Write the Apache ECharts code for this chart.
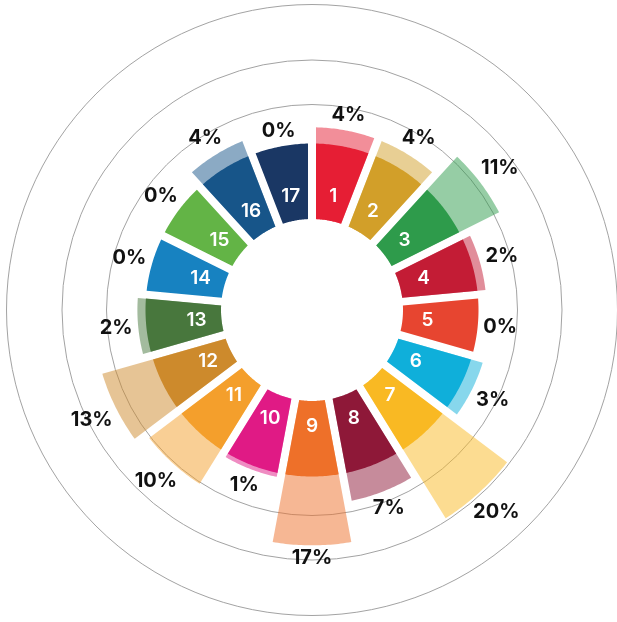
<!DOCTYPE html>
<html lang="en">
<head>
<meta charset="UTF-8">
<title>SDG shares</title>
<script src="https://cdn.jsdelivr.net/npm/echarts@6/dist/echarts.min.js"></script>
<style>
  *{margin:0;padding:0}
  html,body{width:100%;height:100%;background:#fff}
  #main{width:617px;height:622px}
</style>
</head>
<body>
<div id="main"></div>
<script>
    // goal numbers and the share shown outside each one (%)
    var goals = ['1','2','3','4','5','6','7','8','9','10','11','12','13','14','15','16','17'];
    var shares = [4, 4, 11, 2, 0, 3, 20, 7, 17, 1, 10, 13, 2, 0, 0, 4, 0];

    var goalColors = ['#E61E34','#D29F29','#2E9B4B','#C31C35','#E74530','#0FAFDA','#F9B923','#8E1838',
                      '#EE7029','#E01A85','#F49F2C','#CD8A2C','#48773D','#1782C1','#63B446','#175589','#1A3764'];

    // geometry (px)
    var HOLE = 91, BASE = 166.5, PX_PER_PCT = 4.05, OUTER = 306;
    var RINGS_PX = [205.5, 250, 305.5];
    var GAP = 4;
    var rMin = (HOLE - BASE) / PX_PER_PCT;
    var rMax = (OUTER - BASE) / PX_PER_PCT;
    var ringLevels = RINGS_PX.map(function (r) { return (r - BASE) / PX_PER_PCT; });

    var PCT_FONT = '700 20px Inter';
    var NUM_FONT = '600 19px Inter';
    var ctx = document.createElement('canvas').getContext('2d');
    ctx.font = PCT_FONT;
    function textWidth(t) { return ctx.measureText(t).width; }

    function bandPoints(cx, cy, a0, a1, rIn, rOut) {
        var pts = [], n = 30, k, a;
        var o0 = a0 + Math.asin(GAP / rOut), o1 = a1 - Math.asin(GAP / rOut);
        for (k = 0; k <= n; k++) {
            a = o0 + (o1 - o0) * k / n;
            pts.push([cx + rOut * Math.cos(a), cy + rOut * Math.sin(a)]);
        }
        var i0 = a0 + Math.asin(GAP / rIn), i1 = a1 - Math.asin(GAP / rIn);
        for (k = n; k >= 0; k--) {
            a = i0 + (i1 - i0) * k / n;
            pts.push([cx + rIn * Math.cos(a), cy + rIn * Math.sin(a)]);
        }
        return pts;
    }

    function renderRing(params, api) {
        var cs = params.coordSys;
        var p = api.coord([api.value(0), 0]);
        var r = Math.hypot(p[0] - cs.cx, p[1] - cs.cy);
        return {
            type: 'circle',
            shape: {cx: cs.cx, cy: cs.cy, r: r},
            style: {fill: 'none', stroke: '#a3a3a3', lineWidth: 1}
        };
    }

    function renderGoal(params, api) {
        var cs = params.coordSys, cx = cs.cx, cy = cs.cy;
        var v = api.value(0), i = api.value(1);
        var rOf = function (val) {
            var q = api.coord([val, i]);
            return Math.hypot(q[0] - cx, q[1] - cy);
        };
        var p = api.coord([0, i]);
        var mid = Math.atan2(p[1] - cy, p[0] - cx);
        var half = Math.PI / goals.length;
        var a0 = mid - half, a1 = mid + half;
        var rHole = rOf(rMin), rBase = rOf(0), rEnd = rOf(v);
        var color = goalColors[params.dataIndex];
        var children = [];
        if (v > 0) {
            children.push({
                type: 'polygon',
                shape: {points: bandPoints(cx, cy, a0, a1, rHole, rEnd)},
                style: {fill: color, opacity: 0.5}
            });
        }
        children.push({
            type: 'polygon',
            shape: {points: bandPoints(cx, cy, a0, a1, rHole, rBase)},
            style: {fill: color}
        });
        var cos = Math.cos(mid), sin = Math.sin(mid);
        var rNum = rHole + 0.33 * (rBase - rHole);
        children.push({
            type: 'text',
            style: {
                text: goals[params.dataIndex], x: cx + rNum * cos, y: cy + rNum * sin,
                fill: '#fff', font: NUM_FONT, align: 'center', verticalAlign: 'middle'
            }
        });
        var label = v + '%';
        var w = textWidth(label), h = 14.5;
        var rLab = rEnd + 5 + Math.abs(w / 2 * cos) + Math.abs(h / 2 * sin);
        children.push({
            type: 'text',
            style: {
                text: label, x: cx + rLab * cos, y: cy + rLab * sin,
                fill: '#111', font: PCT_FONT, align: 'center', verticalAlign: 'middle'
            }
        });
        return {type: 'group', children: children};
    }

    var chart = echarts.init(document.getElementById('main'));
    var option = {
        backgroundColor: '#fff',
        animation: false,
        polar: {center: [312, 310], radius: [HOLE, OUTER]},
        angleAxis: {
            type: 'category', data: goals, startAngle: 90, clockwise: true,
            axisLine: {show: false}, axisTick: {show: false}, axisLabel: {show: false}, splitLine: {show: false}
        },
        radiusAxis: {
            type: 'value', min: rMin, max: rMax,
            axisLine: {show: false}, axisTick: {show: false}, axisLabel: {show: false}, splitLine: {show: false}
        },
        series: [
            {
                type: 'custom', coordinateSystem: 'polar', z: 1,
                renderItem: renderRing,
                data: ringLevels.map(function (l) { return [l, 0]; })
            },
            {
                type: 'custom', coordinateSystem: 'polar', z: 2,
                renderItem: renderGoal,
                data: shares.map(function (s, i) { return [s, i]; })
            }
        ]
    };
    chart.setOption(option);
</script>
</body>
</html>
